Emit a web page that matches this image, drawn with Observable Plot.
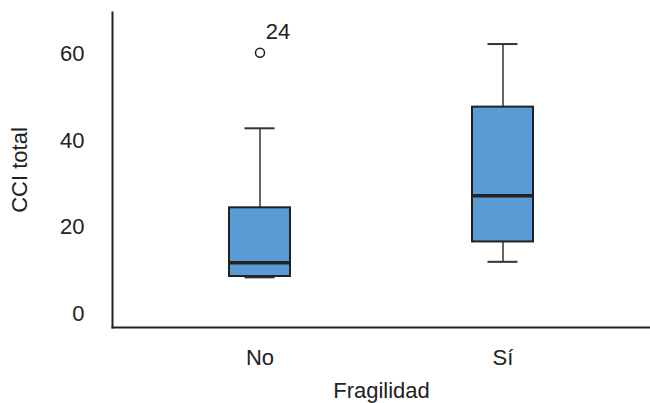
<!DOCTYPE html>
<html>
<head>
<meta charset="utf-8">
<script src="https://cdn.jsdelivr.net/npm/d3@7"></script>
<script src="https://cdn.jsdelivr.net/npm/@observablehq/plot@0.6"></script>
<style>
  html, body { margin: 0; padding: 0; background: #fff; }
  #chart svg { display: block; }
</style>
</head>
<body>
<div id="chart"></div>
<script>
// Data
const categories = ["No", "Sí"];
const whiskerLow = [8.4, 12.0];
const q1 = [8.6, 16.6];
const median = [11.8, 27.3];
const q3 = [24.5, 47.8];
const whiskerHigh = [42.9, 62.4];
const outlierCategory = ["No"];
const outlierValue = [60.4];
const outlierLabel = ["24"];
const yTicks = [0, 20, 40, 60];
const yDomain = [-3.2, 69.7];

const boxes = categories.map((c, i) => ({
  cat: c, lo: whiskerLow[i], q1: q1[i], med: median[i], q3: q3[i], hi: whiskerHigh[i]
}));
const outliers = outlierCategory.map((c, i) => ({cat: c, value: outlierValue[i], label: outlierLabel[i]}));

const dark = "#222222";
const chart = Plot.plot({
  width: 650,
  height: 403,
  marginLeft: 112,
  marginRight: 0,
  marginTop: 12,
  marginBottom: 76,
  style: {fontFamily: "'Liberation Sans', Arial, sans-serif", fontSize: "22px", color: dark, background: "#fff"},
  x: {
    type: "band",
    domain: categories,
    paddingInner: 0.749,
    paddingOuter: 0.481,
    label: "Fragilidad",
    labelAnchor: "center",
    labelOffset: 70,
    tickSize: 0,
    tickPadding: 22
  },
  y: {
    domain: yDomain,
    ticks: yTicks,
    tickSize: 0,
    tickPadding: 28,
    label: "CCI total",
    labelAnchor: "center",
    labelArrow: "none",
    labelOffset: 101
  },
  marks: [
    Plot.frame({anchor: "left", stroke: dark, strokeWidth: 2}),
    Plot.frame({anchor: "bottom", stroke: dark, strokeWidth: 2}),
    Plot.ruleX(boxes, {x: "cat", y1: "q3", y2: "hi", stroke: "#333", strokeWidth: 1.5}),
    Plot.ruleX(boxes, {x: "cat", y1: "lo", y2: "q1", stroke: "#333", strokeWidth: 1.5}),
    Plot.tickY(boxes, {x: "cat", y: "hi", stroke: "#333", strokeWidth: 2, insetLeft: 15.5, insetRight: 15.5}),
    Plot.tickY(boxes, {x: "cat", y: "lo", stroke: "#333", strokeWidth: 2, insetLeft: 15.5, insetRight: 15.5}),
    Plot.barY(boxes, {x: "cat", y1: "q1", y2: "q3", fill: "#5b9bd5", stroke: dark, strokeWidth: 2}),
    Plot.tickY(boxes, {x: "cat", y: "med", stroke: dark, strokeWidth: 3.5}),
    Plot.dot(outliers, {x: "cat", y: "value", r: 4.5, fill: "#fff", stroke: dark, strokeWidth: 1.5}),
    Plot.text(outliers, {x: "cat", y: "value", text: "label", dx: 18, dy: -21, fill: dark, fontSize: 22})
  ]
});
document.getElementById("chart").appendChild(chart);
</script>
</body>
</html>
